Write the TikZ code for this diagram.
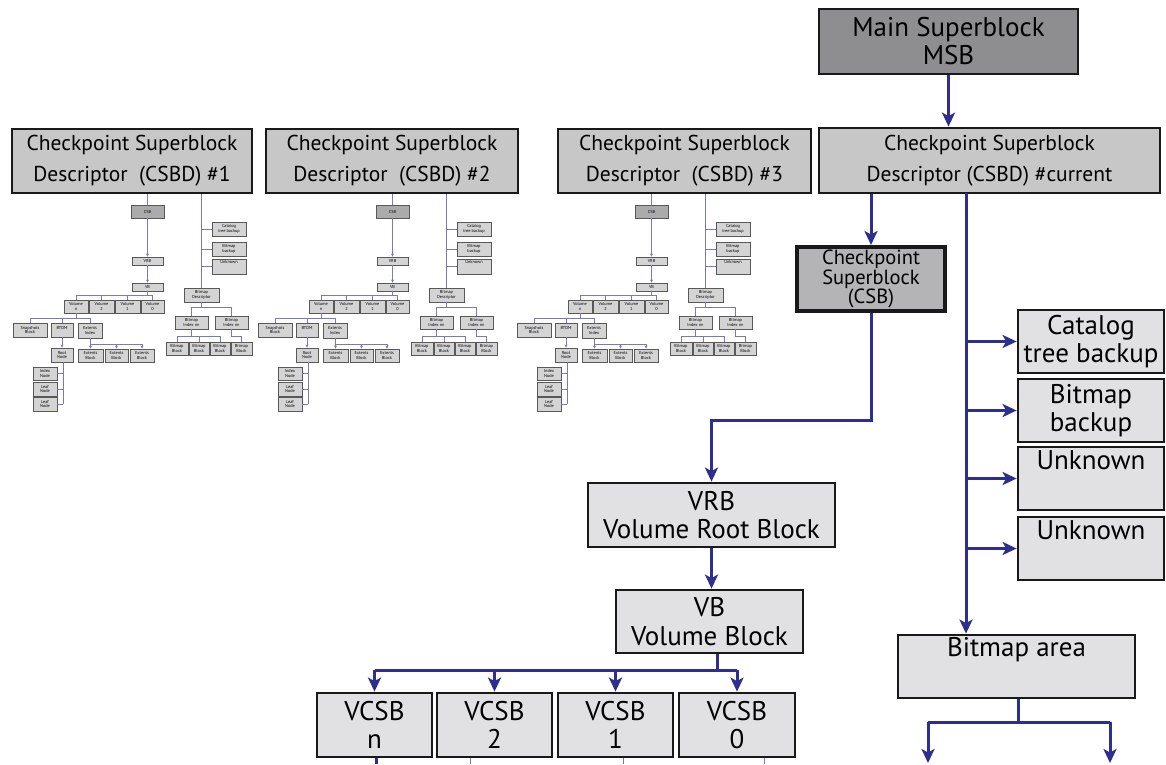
\documentclass[tikz,border=0pt]{standalone}
\usepackage{fontspec}
\setmainfont{PT Sans}
\usetikzlibrary{arrows.meta,calc}
\definecolor{lnblue}{HTML}{2D2E8E}
\definecolor{thinblue}{HTML}{7A7AB8}
\definecolor{boxlight}{HTML}{E1E1E3}
\definecolor{boxmid}{HTML}{C7C7C8}
\definecolor{boxcsb}{HTML}{B4B4B6}
\definecolor{boxdark}{HTML}{8E8E90}
\definecolor{smallfill}{HTML}{D4D4D4}
\definecolor{smalldark}{HTML}{ABABAB}
\newcommand\bx[7]{\node[#6, minimum width={#4-#2}, minimum height={#5-#3}] (#1) at ({(#2+#4)/2},{(#3+#5)/2}) {#7};}
\tikzset{
  bigbox/.style={draw=black!90, line width=2.8pt, fill=boxlight, align=center, inner sep=0pt, font=\fontsize{27}{28.5}\selectfont},
  cbox/.style={bigbox, fill=boxmid, font=\fontsize{21.5}{31}\selectfont},
  msbbox/.style={bigbox, fill=boxdark, font=\fontsize{27}{28}\selectfont},
  csbbox/.style={bigbox, fill=boxcsb, line width=4pt, font=\fontsize{20.5}{17.5}\selectfont},
  lbl/.style={inner sep=0pt, anchor=north, font=\fontsize{27}{28}\selectfont},
  sbox/.style={draw=black!65, line width=0.9pt, fill=smallfill, inner sep=0pt, align=center, font=\fontsize{4.3}{4.6}\selectfont},
  sdark/.style={sbox, fill=smalldark},
  slbl/.style={inner sep=0pt, anchor=north, font=\fontsize{4.3}{4.6}\selectfont},
  link/.style={lnblue, line width=3pt},
  arr/.style={link, -{Stealth[length=14pt,width=13pt,inset=3.5pt]}},
  tlink/.style={thinblue, line width=0.9pt},
  tarr/.style={tlink, -{Stealth[length=3pt,width=3pt]}},
}
\begin{document}
\begin{tikzpicture}[x=1pt,y=-1pt]
\fill[white] (0,0) rectangle (1166,764);
\useasboundingbox (0,0) rectangle (1166,764);

% ---- top boxes
\bx{msb}{819}{9}{1078}{74}{msbbox}{Main Superblock\\MSB}
\bx{cur}{819}{128}{1160}{193}{cbox}{Checkpoint Superblock\\Descriptor (CSBD) \#current}
\bx{d1}{12}{129}{252}{193}{cbox}{Checkpoint Superblock\\Descriptor\ \ (CSBD) \#1}
\bx{d2}{266}{129}{518}{193}{cbox}{Checkpoint Superblock\\Descriptor\ \ (CSBD) \#2}
\bx{d3}{558}{129}{811}{193}{cbox}{Checkpoint Superblock\\Descriptor\ \ (CSBD) \#3}

% ---- small sub-diagrams
\foreach \s/\dx in {1/0, 2/245, 3/504} {
\begin{scope}[shift={(\dx,0)}]
  \bx{csb\s}{131}{205}{164}{218}{sdark}{CSB}
  \bx{vrb\s}{132}{257}{163}{265}{sbox}{VRB}
  \bx{vb\s}{132}{283}{163}{291}{sbox}{VB}
  \bx{voln\s}{64}{300}{88}{313}{sbox}{Volume\\n}
  \bx{volb\s}{89}{300}{114}{313}{sbox}{Volume\\2}
  \bx{vola\s}{115}{300}{140}{313}{sbox}{Volume\\1}
  \bx{volz\s}{141}{300}{164}{313}{sbox}{Volume\\0}
  \bx{snap\s}{13}{323}{47}{337}{sbox}{Snapshots\\Block}
  \bx{btom\s}{51}{323}{73}{337}{sbox}{BTOM\\\mbox{}}
  \bx{exi\s}{78}{323}{102}{338}{sbox}{Extents\\Index}
  \bx{root\s}{51}{348}{73}{362}{sbox}{Root\\Node}
  \bx{eba\s}{78}{349}{103}{362}{sbox}{Extents\\Block}
  \bx{ebb\s}{105}{349}{128}{362}{sbox}{Extents\\Block}
  \bx{ebc\s}{130}{349}{154}{362}{sbox}{Extents\\Block}
  \bx{inode\s}{33}{367}{57}{380}{sbox}{Index\\Node}
  \bx{lfa\s}{33}{382}{57}{396}{sbox}{Leaf\\Node}
  \bx{lfb\s}{33}{397}{57}{411}{sbox}{Leaf\\Node}
  \bx{cat\s}{212}{222}{246}{236}{sbox}{Catalog\\tree backup}
  \bx{bkp\s}{212}{242}{246}{256}{sbox}{Bitmap\\backup}
  \bx{unk\s}{212}{259}{246}{274}{sbox}{}
  \node[slbl] (unkt\s) at ($(unk\s.north)+(0,1.5)$) {Unknown};
  \bx{bd\s}{184}{288}{219}{302}{sbox}{Bitmap\\Descriptor}
  \bx{bia\s}{175}{316}{208}{329}{sbox}{Bitmap\\Index nn}
  \bx{bib\s}{215}{316}{248}{329}{sbox}{Bitmap\\Index nn}
  \bx{bba\s}{166}{342}{188}{355}{sbox}{Bitmap\\Block}
  \bx{bbb\s}{189}{342}{209}{355}{sbox}{Bitmap\\Block}
  \bx{bbc\s}{210}{342}{230}{355}{sbox}{Bitmap\\Block}
  \bx{bbd\s}{231}{342}{252}{355}{sbox}{Bitmap\\Block}
  % connectors
  \draw[tlink] (csb\s.north |- d\s.south) -- (csb\s.north);
  \draw[tarr] (csb\s.south) -- (vrb\s.north);
  \draw[tarr] (vrb\s.south) -- (vb\s.north);
  \coordinate (vj\s) at (147.5,295);
  \draw[tlink] (vb\s.south) -- (vj\s);
  \draw[tlink] (voln\s.north |- vj\s) -- (volz\s.north |- vj\s);
  \foreach \v in {voln,volb,vola,volz} \draw[tlink] (\v\s.north |- vj\s) -- (\v\s.north);
  \coordinate (nj\s) at (76,318);
  \draw[tlink] (voln\s.south) -- (nj\s);
  \draw[tlink] (snap\s.north |- nj\s) -- (exi\s.north |- nj\s);
  \foreach \v in {snap,btom,exi} \draw[tlink] (\v\s.north |- nj\s) -- (\v\s.north);
  \draw[tarr] (btom\s.south) -- (root\s.north);
  \coordinate (ej\s) at (90,344);
  \draw[tlink] (exi\s.south) -- (ej\s) -- (ebc\s.north |- ej\s);
  \foreach \v in {eba,ebb,ebc} \draw[tarr] (\v\s.north |- ej\s) -- (\v\s.north);
  \coordinate (rj\s) at (63,404);
  \draw[tlink] (rj\s |- root\s.south) -- (rj\s);
  \foreach \v in {inode,lfa,lfb} \draw[tlink] (rj\s |- \v\s.east) -- (\v\s.east);
  \draw[tlink] (bd\s.north |- d\s.south) -- (bd\s.north);
  \foreach \v in {cat,bkp,unk} \draw[tlink] (bd\s.north |- \v\s.west) -- (\v\s.west);
  \coordinate (bj\s) at (201.5,307);
  \draw[tlink] (bd\s.south) -- (bj\s);
  \draw[tlink] (bia\s.north |- bj\s) -- (bib\s.north |- bj\s);
  \foreach \v in {bia,bib} \draw[tlink] (\v\s.north |- bj\s) -- (\v\s.north);
  \coordinate (ij\s) at (191.5,336);
  \draw[tlink] (bia\s.south) -- (ij\s);
  \draw[tlink] (bba\s.north |- ij\s) -- (bbc\s.north |- ij\s);
  \foreach \v in {bba,bbb,bbc} \draw[tlink] (\v\s.north |- ij\s) -- (\v\s.north);
  \draw[tlink] (bib\s.south) |- ($(bbd\s.north |- ij\s)$) -- (bbd\s.north);
\end{scope}
}

% ---- main right part
\bx{csb}{797}{247}{945}{311}{csbbox}{Checkpoint\\Superblock\\(CSB)}
\bx{vrb}{588}{483}{835}{547}{bigbox}{VRB\\Volume Root Block}
\bx{vb}{616}{590}{803}{653}{bigbox}{VB\\Volume Block}
\bx{vcsbn}{317}{693}{432}{757}{bigbox}{VCSB\\n}
\bx{vcsbb}{437}{693}{552}{757}{bigbox}{VCSB\\2}
\bx{vcsba}{558}{693}{673}{757}{bigbox}{VCSB\\1}
\bx{vcsbz}{679}{693}{795}{757}{bigbox}{VCSB\\0}
\bx{cat}{1018}{310}{1164}{373}{bigbox}{Catalog\\tree backup}
\bx{bkp}{1018}{379}{1164}{442}{bigbox}{Bitmap\\backup}
\bx{unka}{1018}{447}{1164}{510}{bigbox}{}
\node[lbl] (unkat) at ($(unka.north)+(0,5)$) {Unknown};
\bx{unkb}{1018}{517}{1164}{580}{bigbox}{}
\node[lbl] (unkbt) at ($(unkb.north)+(0,5)$) {Unknown};
\bx{bma}{898}{635}{1135}{698}{bigbox}{}
\node[lbl] (bmat) at ($(bma.north)+(0,4)$) {Bitmap area};

% connectors
\draw[arr] (msb.south) -- (msb.south |- cur.north);
\draw[arr] (csb.north |- cur.south) -- (csb.north);
\coordinate (j1) at (711.5,420);
\draw[arr] (csb.south) |- (j1) -- (vrb.north);
\draw[arr] (vrb.south) -- (vrb.south |- vb.north);
\coordinate (vbj) at (717,670);
\draw[link] (vbj |- vb.south) -- (vbj);
\draw[link] (vcsbn.north |- vbj) -- (vcsbz.north |- vbj);
\foreach \v in {vcsbn,vcsbb,vcsba,vcsbz} \draw[arr] (\v.north |- vbj) -- (\v.north);
\coordinate (vne) at (376,764);
\draw[link] (vne |- vcsbn.south) -- (vne);
\coordinate (vbe) at (470,764);
\coordinate (vae) at (623,764);
\coordinate (vze) at (764,764);
\draw[tlink] (vbe |- vcsbb.south) -- (vbe);
\draw[tlink] (vae |- vcsba.south) -- (vae);
\draw[tlink] (vze |- vcsbz.south) -- (vze);
\coordinate (rv) at (966,193);
\draw[arr] (rv) -- (rv |- bma.north);
\foreach \v in {cat,bkp,unka,unkb} \draw[arr] (rv |- \v.west) -- (\v.west);
\coordinate (bmj) at (1018,722);
\coordinate (bl) at (928,763);
\coordinate (br) at (1110,763);
\draw[link] (bmj |- bma.south) -- (bmj);
\draw[link] (bl |- bmj) -- (br |- bmj);
\draw[arr] (bl |- bmj) -- (bl);
\draw[arr] (br |- bmj) -- (br);
\end{tikzpicture}
\end{document}
